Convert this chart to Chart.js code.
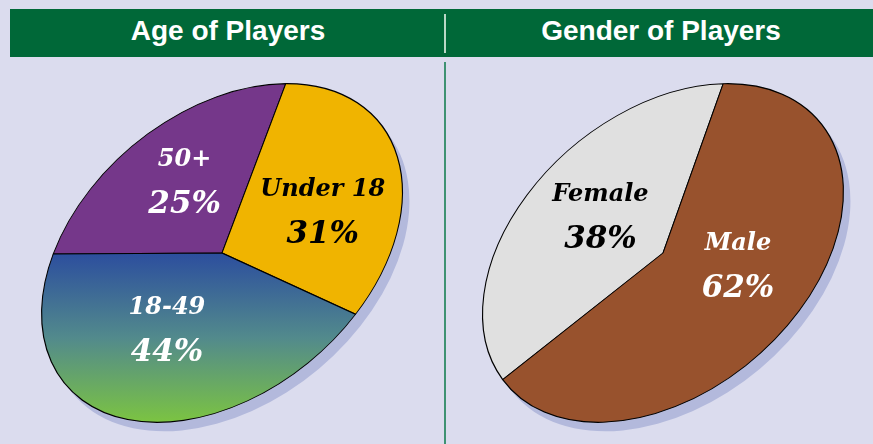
<!DOCTYPE html>
<html>
<head>
<meta charset="utf-8">
<script src="https://cdn.jsdelivr.net/npm/chart.js@4.4.1/dist/chart.umd.min.js"></script>
<style>
  html, body { margin: 0; padding: 0; }
  body { width: 873px; height: 444px; background: #dbdcee; position: relative; overflow: hidden; }
  .header { position: absolute; left: 10px; top: 9px; width: 863px; height: 48px; background: #006838; }
  .header span { position: absolute; top: 0; color: #fff; font: bold 28px "Liberation Sans", Arial, sans-serif; line-height: 44px; text-align: center; }
  .hdiv { position: absolute; left: 434px; top: 5px; width: 2px; height: 39px; background: #b9d8c6; }
  .vdiv { position: absolute; left: 444px; top: 62px; width: 2px; height: 382px; background: #3f9272; }
  canvas { position: absolute; top: 62px; }
</style>
</head>
<body>
<div class="header">
  <span style="left:0;width:436px">Age of Players</span>
  <div class="hdiv"></div>
  <span style="left:436px;width:430px">Gender of Players</span>
</div>
<div class="vdiv"></div>
<canvas id="ageChart" width="444" height="382" style="left:0"></canvas>
<canvas id="genderChart" width="444" height="382" style="left:441px"></canvas>
<script>
// data
const ageLabels = ['50+', 'Under 18', '18-49'];
const agePercents = [25, 31, 44];
const ageColors = ['#75378a', '#f0b400', null]; // null = gradient slice
const ageTextColors = ['#ffffff', '#000000', '#ffffff'];

const genderLabels = ['Female', 'Male'];
const genderPercents = [38, 62];
const genderColors = ['#e0e0e0', '#98522d'];
const genderTextColors = ['#000000', '#ffffff'];

// the discs are shown tilted: a circle squashed to an ellipse and rotated
const TILT_DEG = 40;
const SEMI_MAJOR = 205;
const SEMI_MINOR = 140;

function tiltMatrix(R) {
    const t = TILT_DEG * Math.PI / 180;
    const sa = SEMI_MAJOR / R, sb = SEMI_MINOR / R;
    return { m11: Math.cos(t) * sa, m12: -Math.sin(t) * sa, m21: Math.sin(t) * sb, m22: Math.cos(t) * sb };
}

function geom(chart) {
    const a = chart.chartArea;
    return { cx: (a.left + a.right) / 2, cy: (a.top + a.bottom) / 2, R: Math.min(a.width, a.height) / 2 };
}

function applyTilt(ctx, g) {
    const m = tiltMatrix(g.R);
    ctx.translate(g.cx, g.cy);
    ctx.transform(m.m11, m.m12, m.m21, m.m22, 0, 0);
    ctx.translate(-g.cx, -g.cy);
}

function toScreen(g, x, y) {
    const m = tiltMatrix(g.R);
    const dx = x - g.cx, dy = y - g.cy;
    return { x: g.cx + m.m11 * dx + m.m21 * dy, y: g.cy + m.m12 * dx + m.m22 * dy };
}

// vertical (on screen) gradient for the 18-49 slice, built in the tilted frame
function slantGradient(c) {
    const chart = c.chart;
    if (!chart.chartArea) return '#4f8a8c';
    const g = geom(chart);
    const m = tiltMatrix(g.R);
    const t = TILT_DEG * Math.PI / 180;
    const halfH = Math.sqrt(Math.pow(SEMI_MAJOR * Math.sin(t), 2) + Math.pow(SEMI_MINOR * Math.cos(t), 2));
    const gx = m.m12, gy = m.m22, g2 = gx * gx + gy * gy;
    const grad = chart.ctx.createLinearGradient(g.cx, g.cy, g.cx + gx * halfH / g2, g.cy + gy * halfH / g2);
    grad.addColorStop(0, '#2c4e9e');
    grad.addColorStop(0.5, '#528a8c');
    grad.addColorStop(1, '#7cc441');
    return grad;
}

const tiltPlugin = {
    id: 'tilt',
    beforeDatasetsDraw(chart) {
        const ctx = chart.ctx;
        const g = geom(chart);
        const R = chart.getDatasetMeta(0).data[0].outerRadius;
        // shadow under the disc
        ctx.save();
        ctx.translate(7, 9);
        applyTilt(ctx, g);
        ctx.beginPath();
        ctx.arc(g.cx, g.cy, R, 0, Math.PI * 2);
        ctx.fillStyle = '#b3b9dc';
        ctx.fill();
        ctx.restore();
        ctx.save();
        applyTilt(ctx, g);
    },
    afterDatasetsDraw(chart) {
        const ctx = chart.ctx;
        ctx.restore();
        const g = geom(chart);
        const opts = chart.options.plugins.tilt;
        chart.getDatasetMeta(0).data.forEach((arc, i) => {
            // label sits near the slice middle: [radius fraction, angle shift in degrees]
            const place = opts.labelPlace[i];
            const mid = (arc.startAngle + arc.endAngle) / 2 + place[1] * Math.PI / 180;
            const r = place[0] * arc.outerRadius;
            const p = toScreen(g, arc.x + r * Math.cos(mid), arc.y + r * Math.sin(mid));
            ctx.save();
            ctx.fillStyle = opts.textColors[i];
            ctx.textAlign = 'center';
            ctx.textBaseline = 'middle';
            ctx.font = 'italic bold 24px "DejaVu Serif"';
            ctx.fillText(chart.data.labels[i], p.x, p.y - 22);
            ctx.font = 'italic bold 31px "DejaVu Serif"';
            ctx.fillText(chart.data.datasets[0].data[i] + '%', p.x, p.y + 23);
            ctx.restore();
        });
    }
};

function makePie(id, labels, values, colors, textColors, labelPlace, rotation) {
    return new Chart(document.getElementById(id), {
        type: 'pie',
        data: {
            labels: labels,
            datasets: [{
                data: values,
                backgroundColor: (c) => colors[c.dataIndex] || slantGradient(c),
                borderColor: '#000000',
                borderWidth: 1.2,
                clip: false
            }]
        },
        options: {
            responsive: false,
            devicePixelRatio: 1,
            animation: false,
            rotation: rotation,
            layout: { padding: 0 },
            plugins: {
                legend: { display: false },
                tooltip: { enabled: false },
                tilt: { textColors: textColors, labelPlace: labelPlace }
            }
        },
        plugins: [tiltPlugin]
    });
}

makePie('ageChart', ageLabels, agePercents, ageColors, ageTextColors,
    [[0.57, 3], [0.56, 9], [0.48, 8]], -39.5);
makePie('genderChart', genderLabels, genderPercents, genderColors, genderTextColors,
    [[0.50, 5], [0.48, -11]], -87.5);
</script>
</body>
</html>
